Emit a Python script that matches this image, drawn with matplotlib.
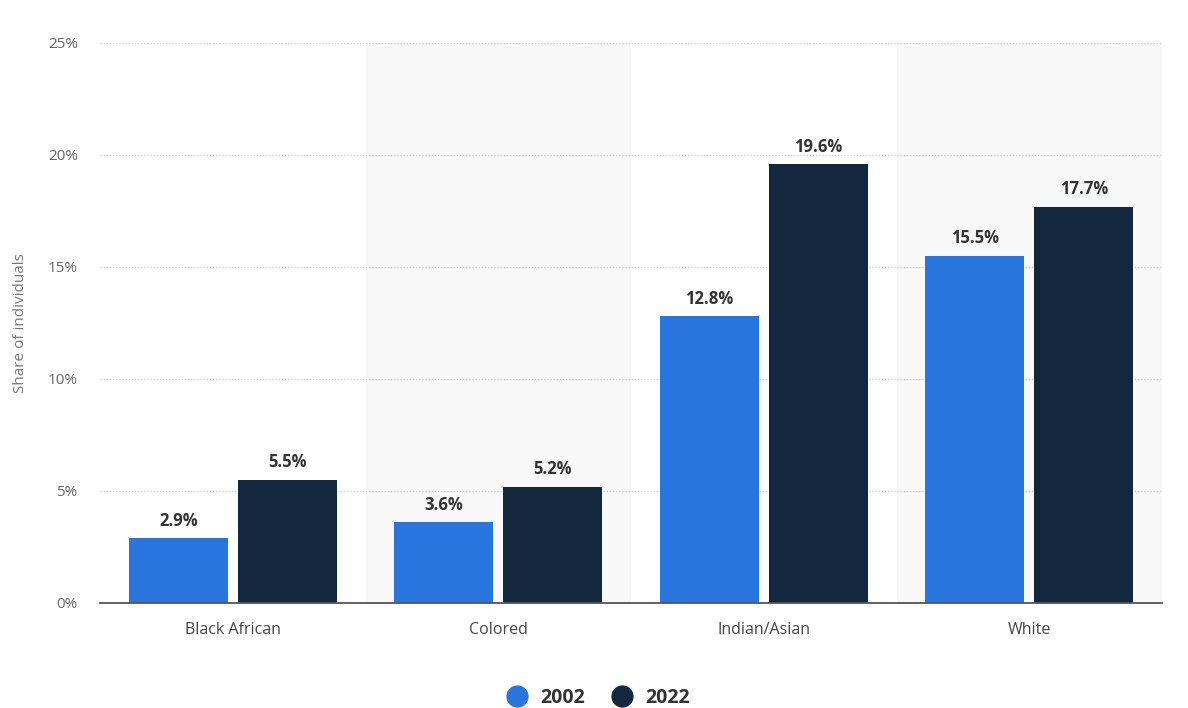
import matplotlib
matplotlib.use("Agg")
import matplotlib.pyplot as plt
import numpy as np
from matplotlib.lines import Line2D

categories = ["Black African", "Colored", "Indian/Asian", "White"]
series_names = ["2002", "2022"]
values_2002 = [2.9, 3.6, 12.8, 15.5]
values_2022 = [5.5, 5.2, 19.6, 17.7]
yticks = [0, 5, 10, 15, 20, 25]

c_blue = "#2876dd"
c_dark = "#13283e"

plt.rcParams['font.family'] = ['Open Sans', 'DejaVu Sans']

fig = plt.figure(figsize=(11.88, 7.08), dpi=100)
ax = fig.add_axes([100/1188, 1-603/708, 1062/1188, 560/708])

x = np.arange(len(categories))
w = 0.373
off = 0.205

for i in range(len(categories)):
    if i % 2 == 1:
        ax.axvspan(i-0.5, i+0.5, color="#f8f8f8", zorder=0, lw=0)

b1 = ax.bar(x-off, values_2002, w, color=c_blue, zorder=3, label=series_names[0])
b2 = ax.bar(x+off, values_2022, w, color=c_dark, zorder=3, label=series_names[1])

for bars, vals in ((b1, values_2002), (b2, values_2022)):
    for r, v in zip(bars, vals):
        ax.annotate(f"{v}%", (r.get_x()+r.get_width()/2, v), xytext=(0, 6),
                    textcoords="offset points", ha="center", va="bottom",
                    fontsize=12, fontweight="bold", color="#333333", zorder=4)

ax.set_xlim(-0.5, 3.5)
ax.set_ylim(0, 25)
ax.set_yticks(yticks)
ax.set_yticklabels([f"{t}%" for t in yticks])
ax.set_xticks(x)
ax.set_xticklabels(categories)
ax.tick_params(axis='y', length=0, pad=16, labelsize=11, labelcolor="#666666")
ax.tick_params(axis='x', length=0, pad=14, labelsize=11.5, labelcolor="#444444")
ax.grid(axis='y', linestyle=(0, (1, 1.5)), color="#cccccc", linewidth=0.9, zorder=1)
ax.set_axisbelow(True)
for s in ("top", "right", "left"):
    ax.spines[s].set_visible(False)
ax.spines["bottom"].set_color("#555555")
ax.spines["bottom"].set_linewidth(1.3)
ax.spines["bottom"].set_zorder(5)

ax.set_ylabel("Share of individuals", fontsize=11, color="#777777")
ax.yaxis.set_label_coords(-72/1062, 0.5)

handles = [Line2D([], [], marker='o', ls='', markersize=15, color=c) for c in (c_blue, c_dark)]
leg = fig.legend(handles, series_names, loc="center", bbox_to_anchor=(0.5, 1-698/708),
                 ncol=2, frameon=False, fontsize=14, handletextpad=0.2, columnspacing=0.9)
for t in leg.get_texts():
    t.set_fontweight("bold")
    t.set_color("#333333")

fig.savefig("out.png", dpi=100, facecolor="white")
